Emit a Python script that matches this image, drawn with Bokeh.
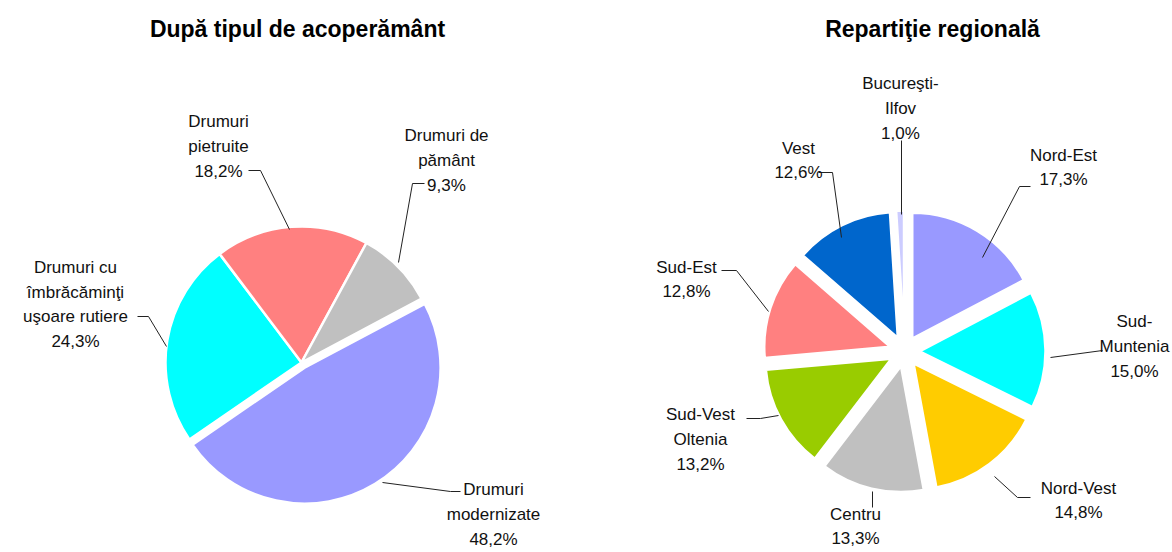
import numpy as np
from bokeh.plotting import figure
from bokeh.models import Range1d, ColumnDataSource
from bokeh.core.properties import value
from bokeh.embed import file_html
from bokeh.resources import INLINE

# ---------------- data ----------------
surface_title = "După tipul de acoperământ"
surface_names = ["Drumuri\nmodernizate", "Drumuri cu\nîmbrăcăminţi\nuşoare rutiere",
                 "Drumuri\npietruite", "Drumuri de\npământ"]
surface_values = [48.2, 24.3, 18.2, 9.3]
surface_colors = ["#9999FF", "#00FFFF", "#FF8080", "#C0C0C0"]

region_title = "Repartiţie regională"
region_names = ["Nord-Est", "Sud-\nMuntenia", "Nord-Vest", "Centru", "Sud-Vest\nOltenia",
                "Sud-Est", "Vest", "Bucureşti-\nIlfov"]
region_values = [17.3, 15.0, 14.8, 13.3, 13.2, 12.8, 12.6, 1.0]
region_colors = ["#9999FF", "#00FFFF", "#FFCC00", "#C0C0C0", "#99CC00",
                 "#FF8080", "#0066CC", "#CCCCFF"]

# ---------------- layout (reference pixel coords, y down) ----------------
W, H = 1172, 552
FONT = "Liberation Sans"

def Y(v):
    return H - v

left_pie = dict(cx=301, cy=362, r=136, start_deg=62,
                explode=[6, 0, 0, 0],
                label_xy=[(493, 514), (75, 304), (218, 146), (446, 160)],
                leaders=[[(382, 482), (450, 491), (460, 491)],
                         [(137, 316), (148, 316), (166, 346)],
                         [(248, 170), (260, 170), (289, 229)],
                         [(424, 183), (412, 183), (398, 262)]],
                title_xy=(297, 28))
right_pie = dict(cx=904, cy=351, r=126, start_deg=0,
                 explode=[15] * 8,
                 label_xy=[(1063, 167), (1134, 346), (1078, 500), (855, 526),
                           (700, 439), (686, 279), (798, 160), (900, 108)],
                 leaders=[[(1030, 186), (1019, 186), (982, 257)],
                          [(1050, 357), (1102, 350)],
                          [(994, 476), (1017, 497), (1030, 497)],
                          [(872, 491), (872, 507)],
                          [(746, 418), (760, 418), (778, 415)],
                          [(721, 270), (736, 270), (768, 311)],
                          [(818, 172), (832, 172), (841, 237)],
                          [(901, 140), (901, 214)]],
                 title_xy=(932, 28))

p = figure(width=W, height=H, output_backend="svg", toolbar_location=None,
           x_range=Range1d(0, W), y_range=Range1d(0, H), min_border=0)
p.xaxis.visible = False
p.yaxis.visible = False
p.grid.visible = False
p.outline_line_color = None
p.background_fill_color = "white"
p.border_fill_color = "white"


def fmt(v):
    return f"{v:.1f}".replace(".", ",") + "%"


def draw_pie(names, values, colors, cfg, title):
    vals = np.array(values, dtype=float)
    frac = vals / vals.sum()
    cum = np.cumsum(frac)
    start = np.deg2rad(cfg["start_deg"])
    a1 = start + 2 * np.pi * (cum - frac)   # clockwise from 12 o'clock
    a2 = start + 2 * np.pi * cum
    mid = (a1 + a2) / 2
    d = np.array(cfg["explode"], dtype=float)
    xs = cfg["cx"] + d * np.sin(mid)
    ys = Y(cfg["cy"]) + d * np.cos(mid)
    src = ColumnDataSource(dict(x=xs, y=ys, sa=np.pi / 2 - a2, ea=np.pi / 2 - a1,
                                color=colors))
    p.wedge(x="x", y="y", radius=cfg["r"], start_angle="sa", end_angle="ea",
            fill_color="color", line_color="white", line_width=2.5, source=src)

    # leader lines
    lx = [[pt[0] for pt in ln] for ln in cfg["leaders"]]
    ly = [[Y(pt[1]) for pt in ln] for ln in cfg["leaders"]]
    p.multi_line(xs=lx, ys=ly, line_color="#222222", line_width=1)

    # labels
    texts = [f"{n}\n{fmt(v)}" for n, v in zip(names, values)]
    p.text(x=[xy[0] for xy in cfg["label_xy"]], y=[Y(xy[1]) for xy in cfg["label_xy"]],
           text=texts, text_font=value(FONT), text_font_size="17px",
           text_align="center", text_baseline="middle", text_line_height=1.3,
           text_color="#111111")
    # title
    tx, ty = cfg["title_xy"]
    p.text(x=[tx], y=[Y(ty)], text=[title], text_font=value(FONT),
           text_font_size="23px", text_font_style="bold", text_align="center",
           text_baseline="middle", text_color="black")


draw_pie(surface_names, surface_values, surface_colors, left_pie, surface_title)
draw_pie(region_names, region_values, region_colors, right_pie, region_title)

open("out.html", "w").write(file_html(p, INLINE))
